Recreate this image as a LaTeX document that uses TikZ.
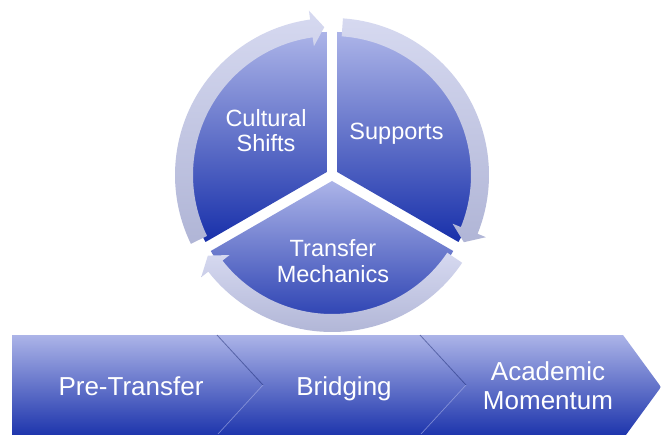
\documentclass[tikz,border=0pt]{standalone}
\usepackage{fontspec}
\setmainfont{Liberation Sans}
\usetikzlibrary{calc}
\definecolor{lite}{RGB}{172,180,232}
\definecolor{deep}{RGB}{24,48,170}
\definecolor{ringtop}{RGB}{214,217,240}
\definecolor{ringbot}{RGB}{176,181,214}
\newcommand\ringarr[2]{%
  \path[ringarrow] (#1:157) arc[start angle=#1, end angle={#2+5}, radius=157]
    -- ({#2+5}:166) -- (#2:148) -- ({#2+5}:130) -- ({#2+5}:139)
    arc[start angle={#2+5}, end angle=#1, radius=139] -- cycle;}
\begin{document}
\begin{tikzpicture}[x=1pt,y=1pt,
  sector/.style={top color=lite, bottom color=deep, draw=none},
  ringarrow/.style={top color=ringtop, bottom color=ringbot, draw=none},
  lbl/.style={text=white, font=\fontsize{23.5}{25.5}\selectfont, align=center, inner sep=0pt},
  barlbl/.style={text=white, font=\fontsize{26}{29}\selectfont, align=center, inner sep=0pt},
  sepdark/.style={draw=deep!60!black, line width=0.8pt, opacity=0.45},
  seplite/.style={draw=lite, line width=0.7pt, opacity=0.6}]
\useasboundingbox (0,0) rectangle (661,434);
\fill[white] (0,0) rectangle (661,434);
\clip (0,0) rectangle (661,434);
% pie sectors
\begin{scope}[shift={(332,259)}]
  \path[sector] (150:6) -- ++(90:140) arc[start angle=90, end angle=210, radius=140] -- cycle;
  \path[sector] (30:6) -- ++(90:140) arc[start angle=90, end angle=-30, radius=140] -- cycle;
  \path[sector] (270:6) -- ++(210:140) arc[start angle=210, end angle=330, radius=140] -- cycle;
  % ring arrows
  \ringarr{206}{93}
  \ringarr{86}{-27}
  \ringarr{-34}{-147}
\end{scope}
% bottom process bar
\path[sector] (12,99) -- (623,99) -- (661,47) -- (623,-5) -- (12,-5) -- cycle;
\coordinate (s1a) at (217,99); \coordinate (s1b) at (263,49); \coordinate (s1c) at (218,0);
\coordinate (s2a) at (420,99); \coordinate (s2b) at (466,49); \coordinate (s2c) at (421,0);
\draw[sepdark] (s1a) -- (s1b);
\draw[seplite] (s1b) -- (s1c);
\draw[sepdark] (s2a) -- (s2b);
\draw[seplite] (s2b) -- (s2c);
% labels
\node[lbl] (cult) at (266,303.3) {Cultural\\Shifts};
\node[lbl, anchor=base] (supp) at (396.5,294.5) {Supports};
\node[lbl] (trans) at (333,173) {Transfer\\Mechanics};
\node[barlbl, anchor=base] (pre) at (131,38.3) {Pre-Transfer};
\node[barlbl, anchor=base] (brid) at (344,38.3) {Bridging};
\node[barlbl] (acad) at (548,48) {Academic\\Momentum};
\end{tikzpicture}
\end{document}
